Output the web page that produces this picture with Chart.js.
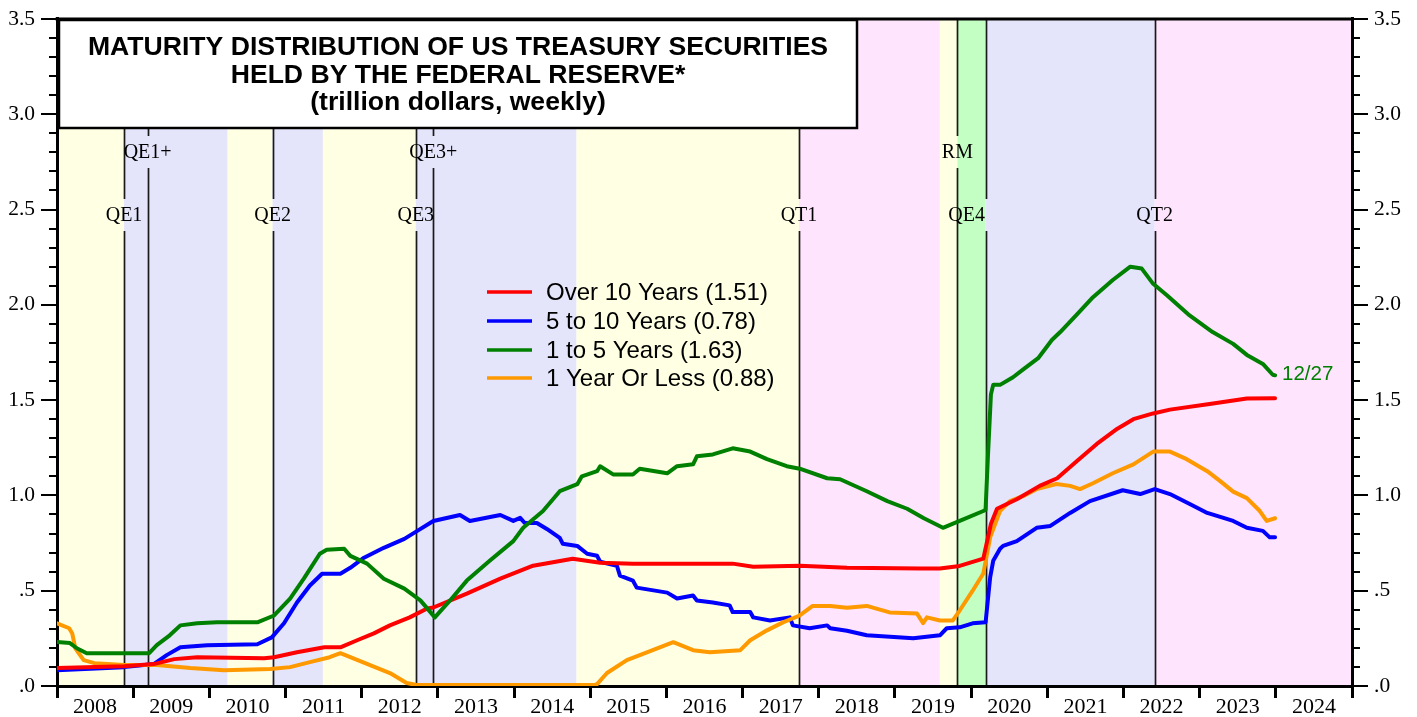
<!DOCTYPE html>
<html><head><meta charset="utf-8">
<script src="https://cdn.jsdelivr.net/npm/chart.js@4.4.1/dist/chart.umd.min.js"></script>
<style>html,body{margin:0;padding:0;background:#fff;}#wrap{width:1417px;height:717px;}</style>
</head><body><div id="wrap"><canvas id="c" width="1417" height="717"></canvas></div>
<script>
// ---------------- DATA ----------------
const yearLabels = ['2008','2009','2010','2011','2012','2013','2014','2015','2016','2017','2018','2019','2020','2021','2022','2023','2024'];
const yTickLabels = ['.0','.5','1.0','1.5','2.0','2.5','3.0','3.5'];
const seriesNames = ['Over 10 Years (1.51)','5 to 10 Years (0.78)','1 to 5 Years (1.63)','1 Year Or Less (0.88)'];
const titleLines = ['MATURITY DISTRIBUTION OF US TREASURY SECURITIES','HELD BY THE FEDERAL RESERVE*','(trillion dollars, weekly)'];
const endLabel = '12/27';

const over10Dates = [2008.00,2008.88,2009.27,2009.54,2009.84,2010.72,2010.85,2011.15,2011.51,2011.72,2011.94,2012.16,2012.37,2012.63,2012.86,2012.94,2013.38,2013.82,2014.25,2014.77,2015.13,2015.56,2016.87,2017.14,2017.75,2018.37,2019.34,2019.59,2019.85,2020.16,2020.26,2020.34,2020.60,2020.90,2021.13,2021.39,2021.65,2021.92,2022.13,2022.39,2022.61,2023.13,2023.62,2023.99];
const over10Vals  = [0.094,0.104,0.115,0.141,0.151,0.146,0.151,0.177,0.203,0.203,0.240,0.276,0.318,0.360,0.407,0.412,0.485,0.563,0.631,0.668,0.647,0.642,0.642,0.626,0.631,0.620,0.616,0.616,0.630,0.668,0.850,0.930,0.980,1.050,1.090,1.180,1.270,1.350,1.400,1.430,1.450,1.480,1.508,1.510];

const mid5to10Dates = [2008.00,2008.88,2009.27,2009.44,2009.62,2009.97,2010.63,2010.82,2010.98,2011.15,2011.32,2011.48,2011.72,2011.85,2012.03,2012.29,2012.56,2012.73,2012.94,2013.29,2013.42,2013.82,2013.99,2014.08,2014.14,2014.30,2014.43,2014.60,2014.64,2014.83,2014.96,2015.09,2015.13,2015.35,2015.39,2015.56,2015.61,2016.01,2016.14,2016.35,2016.40,2016.61,2016.83,2016.87,2017.10,2017.14,2017.36,2017.62,2017.66,2017.88,2018.11,2018.15,2018.37,2018.63,2019.24,2019.59,2019.68,2019.85,2020.02,2020.19,2020.25,2020.29,2020.38,2020.42,2020.60,2020.86,2021.04,2021.30,2021.56,2021.99,2022.22,2022.41,2022.61,2022.87,2023.10,2023.44,2023.62,2023.83,2023.92,2023.99];
const mid5to10Vals  = [0.083,0.099,0.115,0.162,0.203,0.214,0.219,0.255,0.329,0.438,0.527,0.589,0.589,0.620,0.673,0.725,0.772,0.814,0.866,0.897,0.866,0.897,0.866,0.882,0.855,0.855,0.824,0.777,0.746,0.735,0.694,0.683,0.652,0.631,0.579,0.553,0.516,0.490,0.459,0.475,0.449,0.438,0.423,0.388,0.388,0.360,0.344,0.360,0.318,0.303,0.318,0.303,0.290,0.266,0.250,0.266,0.303,0.308,0.329,0.334,0.570,0.657,0.720,0.735,0.760,0.830,0.840,0.908,0.970,1.027,1.007,1.033,1.007,0.955,0.908,0.866,0.830,0.814,0.780,0.780];

const short1to5Dates = [2008.00,2008.17,2008.26,2008.39,2008.88,2009.21,2009.31,2009.48,2009.62,2009.84,2010.10,2010.63,2010.85,2011.06,2011.24,2011.45,2011.54,2011.77,2011.85,2012.07,2012.29,2012.56,2012.77,2012.86,2012.96,2013.16,2013.38,2013.68,2013.99,2014.12,2014.38,2014.60,2014.83,2014.89,2015.09,2015.13,2015.30,2015.56,2015.65,2016.01,2016.14,2016.35,2016.40,2016.61,2016.87,2017.10,2017.32,2017.58,2017.75,2018.11,2018.28,2018.63,2018.90,2019.16,2019.38,2019.63,2019.85,2020.16,2020.19,2020.22,2020.26,2020.29,2020.38,2020.55,2020.68,2020.88,2021.06,2021.17,2021.39,2021.60,2021.86,2022.09,2022.24,2022.39,2022.57,2022.85,2023.17,2023.44,2023.62,2023.83,2023.96,2023.99];
const short1to5Vals  = [0.231,0.225,0.198,0.172,0.172,0.172,0.214,0.266,0.318,0.329,0.334,0.334,0.370,0.459,0.563,0.694,0.715,0.720,0.683,0.642,0.563,0.511,0.449,0.407,0.360,0.449,0.553,0.657,0.760,0.830,0.918,1.022,1.059,1.100,1.127,1.153,1.110,1.110,1.140,1.116,1.153,1.163,1.205,1.215,1.247,1.230,1.190,1.153,1.140,1.090,1.085,1.022,0.970,0.930,0.880,0.830,0.866,0.918,0.925,1.200,1.530,1.580,1.580,1.620,1.660,1.720,1.815,1.857,1.950,2.040,2.130,2.200,2.190,2.110,2.050,1.950,1.857,1.795,1.737,1.690,1.633,1.630];

const billsDates = [2008.00,2008.16,2008.20,2008.24,2008.35,2008.49,2008.88,2009.31,2009.75,2010.19,2010.80,2011.06,2011.32,2011.58,2011.72,2011.85,2012.11,2012.37,2012.59,2012.72,2015.05,2015.09,2015.22,2015.48,2015.82,2016.09,2016.35,2016.57,2016.97,2017.10,2017.32,2017.53,2017.75,2017.92,2018.15,2018.37,2018.63,2018.93,2019.29,2019.37,2019.42,2019.59,2019.76,2019.85,2020.02,2020.16,2020.25,2020.38,2020.51,2020.68,2020.86,2021.12,2021.30,2021.43,2021.60,2021.86,2022.13,2022.39,2022.61,2022.83,2023.10,2023.27,2023.44,2023.62,2023.79,2023.88,2023.99];
const billsVals  = [0.329,0.303,0.276,0.198,0.136,0.120,0.110,0.110,0.094,0.083,0.089,0.099,0.125,0.151,0.172,0.151,0.110,0.068,0.016,0.005,0.005,0.010,0.068,0.136,0.188,0.230,0.188,0.177,0.188,0.240,0.292,0.334,0.370,0.420,0.420,0.410,0.420,0.386,0.380,0.330,0.360,0.344,0.344,0.396,0.500,0.590,0.780,0.918,0.970,0.996,1.033,1.060,1.050,1.033,1.064,1.116,1.163,1.230,1.230,1.190,1.127,1.075,1.020,0.986,0.918,0.866,0.880];

// policy regimes (background bands)
const bandStarts = [2008.00,2008.88,2010.24,2010.83,2011.49,2012.71,2014.82,2017.74,2019.59,2019.82,2020.19,2022.41];
const bandEnds   = [2008.88,2010.24,2010.83,2011.49,2012.71,2014.82,2017.74,2019.59,2019.82,2020.19,2022.41,2025.00];
const bandKinds  = ['none','qe','none','qe','none','qe','none','qt','none','rm','qe','qt'];
// event markers
const eventDates  = [2008.88,2009.19,2010.83,2012.71,2012.94,2017.74,2019.82,2020.19,2022.41];
const eventLabels = ['QE1','QE1+','QE2','QE3','QE3+','QT1','RM','QE4','QT2'];

// ---------------- STYLE ----------------
const bandColors = {none:'#FFFFE3', qe:'#E4E4FB', qt:'#FFE4FD', rm:'#C3FFC3'};
const eventRowY  = {QE1:215,'QE1+':152,QE2:215,QE3:215,'QE3+':152,QT1:215,RM:152,QE4:215,QT2:215};
const eventLabelDx = {QE4:-19};
const seriesColors = ['#FF0000','#0000FF','#008000','#FF9900'];
const SANS = '"Liberation Sans", Arial, sans-serif';
const SERIF = '"Liberation Serif", "Times New Roman", serif';

function pts(d, v){ return d.map((x,i)=>({x:x, y:v[i]})); }

const decorPlugin = {
  id:'decor',
  beforeDraw(chart){
    const {ctx, chartArea:a, scales:{x}} = chart;
    ctx.save();
    ctx.fillStyle = '#fff'; ctx.fillRect(0,0,chart.width,chart.height);
    bandStarts.forEach((s,i)=>{
      const x0 = x.getPixelForValue(s), x1 = x.getPixelForValue(bandEnds[i]);
      ctx.fillStyle = bandColors[bandKinds[i]];
      ctx.fillRect(x0, a.top, x1-x0, a.bottom-a.top);
    });
    ctx.strokeStyle = '#1a1a1a'; ctx.lineWidth = 1.7;
    ctx.font = '20px ' + SERIF; ctx.fillStyle = '#000';
    ctx.textAlign = 'center'; ctx.textBaseline = 'middle';
    eventDates.forEach((d,i)=>{
      const px = Math.round(x.getPixelForValue(d)) + 0.5;
      const lab = eventLabels[i], ly = eventRowY[lab];
      ctx.beginPath();
      ctx.moveTo(px, a.top); ctx.lineTo(px, ly-16);
      ctx.moveTo(px, ly+16); ctx.lineTo(px, a.bottom);
      ctx.stroke();
    });
    eventDates.forEach((d,i)=>{
      const px = x.getPixelForValue(d);
      const lab = eventLabels[i];
      ctx.fillText(lab, px + (eventLabelDx[lab]||0), eventRowY[lab]+1);
    });
    ctx.restore();
  },
  afterDatasetsDraw(chart){
    const {ctx, chartArea:a, scales:{y}} = chart;
    ctx.save();
    // title box
    ctx.fillStyle = '#fff'; ctx.fillRect(59,20,798,108);
    ctx.strokeStyle = '#000'; ctx.lineWidth = 2.5; ctx.strokeRect(59,20,798,108);
    ctx.fillStyle = '#000'; ctx.textAlign = 'center'; ctx.textBaseline = 'middle';
    ctx.font = 'bold 26.6px ' + SANS;
    const ty = [48,76,103];
    titleLines.forEach((t,i)=>ctx.fillText(t, 458, ty[i]));
    // legend
    ctx.textAlign = 'left'; ctx.font = '24px ' + SANS;
    const ly = [292,321,350,378];
    chart.data.datasets.forEach((ds,i)=>{
      ctx.strokeStyle = ds.borderColor; ctx.lineWidth = 3.5;
      ctx.beginPath(); ctx.moveTo(487, ly[i]); ctx.lineTo(532, ly[i]); ctx.stroke();
      ctx.fillStyle = '#000'; ctx.fillText(ds.label, 546, ly[i]+1);
    });
    // end label
    ctx.fillStyle = '#008000'; ctx.font = '20.5px ' + SANS;
    ctx.fillText(endLabel, 1282, 374);
    // minor ticks
    ctx.strokeStyle = '#000'; ctx.lineWidth = 2;
    ctx.beginPath();
    for (let i=1;i<35;i++){
      if (i%5===0) continue;
      const py = Math.round(y.getPixelForValue(i/10));
      ctx.moveTo(a.left-8, py); ctx.lineTo(a.left, py);
      ctx.moveTo(a.right, py); ctx.lineTo(a.right+8, py);
    }
    ctx.stroke();
    // top border
    ctx.lineWidth = 3;
    ctx.beginPath(); ctx.moveTo(a.left-1.5, a.top); ctx.lineTo(a.right+1.5, a.top); ctx.stroke();
    ctx.restore();
  }
};

const yTick = (v)=>{ const k = Math.round(v*2); return (Math.abs(v*2-k)<1e-6) ? yTickLabels[k] : ''; };

new Chart(document.getElementById('c'), {
  type:'line',
  data:{ datasets:[
    {label:seriesNames[0], data:pts(over10Dates, over10Vals), borderColor:seriesColors[0], order:2},
    {label:seriesNames[1], data:pts(mid5to10Dates, mid5to10Vals), borderColor:seriesColors[1], order:4},
    {label:seriesNames[2], data:pts(short1to5Dates, short1to5Vals), borderColor:seriesColors[2], order:1},
    {label:seriesNames[3], data:pts(billsDates, billsVals), borderColor:seriesColors[3], order:3}
  ]},
  options:{
    responsive:false, animation:false, devicePixelRatio:1,
    layout:{padding:{top:15,left:0,right:0,bottom:0}},
    elements:{point:{radius:0}, line:{tension:0, borderWidth:4, borderJoinStyle:'round', borderCapStyle:'round', fill:false}},
    plugins:{legend:{display:false}, tooltip:{enabled:false}, title:{display:false}},
    scales:{
      x:{type:'linear', min:2008, max:2025,
        afterBuildTicks:(s)=>{ const t=[]; for(let i=0;i<=17;i++){ t.push({value:2008+i}); if(i<17) t.push({value:2008+i+0.5}); } s.ticks=t; },
        ticks:{autoSkip:false, maxRotation:0, minRotation:0, padding:-4, color:'#000', font:{family:SERIF, size:22},
          callback:(v)=> Number.isInteger(v) ? '' : yearLabels[Math.floor(v)-2008]},
        grid:{drawOnChartArea:false, drawTicks:true, tickLength:12, lineWidth:3,
          color:(c)=> (c.tick && Number.isInteger(c.tick.value)) ? '#000' : 'rgba(0,0,0,0)'},
        border:{display:true, width:3, color:'#000'},
        afterFit:(s)=>{ s.height = 31; }
      },
      y:{position:'left', min:0, max:3.5,
        ticks:{stepSize:0.5, padding:6, color:'#000', font:{family:SERIF, size:21.5}, callback:yTick},
        grid:{drawOnChartArea:false, drawTicks:true, tickLength:16, lineWidth:2, color:'#000'},
        border:{display:true, width:3, color:'#000'},
        afterFit:(s)=>{ s.width = 57; }
      },
      y2:{position:'right', min:0, max:3.5,
        ticks:{stepSize:0.5, padding:6, color:'#000', font:{family:SERIF, size:21.5}, callback:yTick},
        grid:{drawOnChartArea:false, drawTicks:true, tickLength:16, lineWidth:2, color:'#000'},
        border:{display:true, width:3, color:'#000'},
        afterFit:(s)=>{ s.width = 65; }
      }
    }
  },
  plugins:[decorPlugin]
});
</script></body></html>
